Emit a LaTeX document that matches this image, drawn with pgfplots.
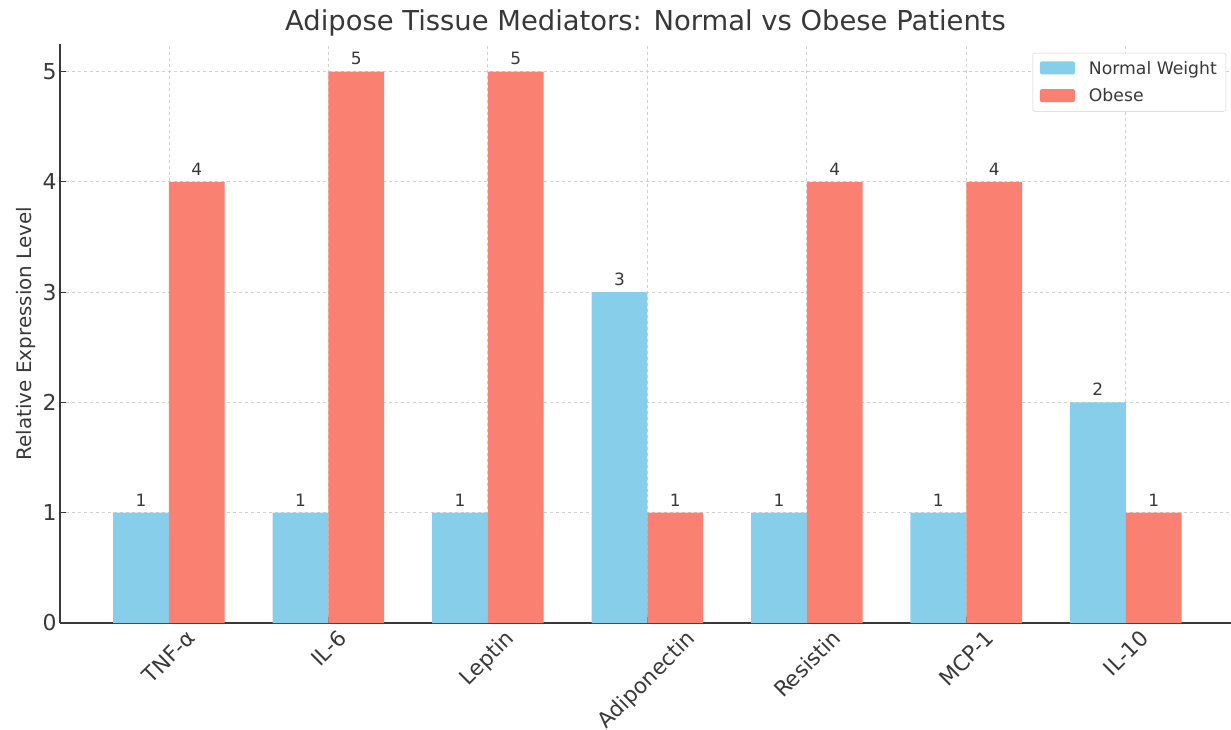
\documentclass[border=0pt]{standalone}
\usepackage{pgfplots}
\pgfplotsset{compat=1.18}
\usepackage{fontspec}
\setmainfont{DejaVu Sans}
\definecolor{skyb}{HTML}{87CEEB}
\definecolor{salm}{HTML}{FA8072}
\definecolor{txt}{HTML}{383838}
\definecolor{gridc}{HTML}{D0D0D0}
\begin{document}
\begin{tikzpicture}
\begin{axis}[
  name=ax,
  scale only axis,
  width=1171bp, height=579bp,
  xmin=-0.683, xmax=6.66,
  ymin=0, ymax=5.25,
  axis x line*=bottom, axis y line*=left,
  axis line style={txt, line width=1.2pt},
  ybar=0pt, bar width=0.35,
  xtick={0,1,2,3,4,5,6},
  xticklabels={\rotatebox{45}{TNF-α},\rotatebox{45}{IL-6},\rotatebox{45}{Leptin},\rotatebox{45}{Adiponectin},\rotatebox{45}{Resistin},\rotatebox{45}{MCP-1},\rotatebox{45}{IL-10}},
  xticklabel style={anchor=north, font=\fontsize{21.5}{25}\selectfont, text=txt, yshift=-2bp},
  ytick={0,1,2,3,4,5},
  yticklabel style={font=\fontsize{22}{26}\selectfont, text=txt},
  /pgf/number format/assume math mode=true,
  tick style={txt, line width=1pt},
  major tick length=6bp,
  tick align=inside,
  grid=major,
  major grid style={gridc, dashed, line width=0.8pt},
  ylabel={Relative Expression Level},
  ylabel style={font=\fontsize{20}{24}\selectfont, text=txt},
  title={Adipose Tissue Mediators: Normal vs Obese Patients},
  title style={font=\fontsize{27.5}{32}\selectfont, text=txt, yshift=-2bp},
  legend style={at={(1,1)}, anchor=north east, xshift=-5bp, yshift=-9bp,
    font=\fontsize{17.3}{20}\selectfont, text=txt, draw=gridc, rounded corners=2pt,
    row sep=9bp, inner xsep=7bp, inner ysep=6bp},
  legend image code/.code={\fill[#1] (0bp,-6bp) rectangle (35bp,7bp); \path (47bp,0bp);},
  legend cell align=left,
  nodes near coords,
  nodes near coords style={font=\fontsize{17}{20}\selectfont, text=txt, yshift=3bp},
  every node near coord/.append style={/pgf/number format/assume math mode=true},
]
\addplot[fill=skyb, draw=none] coordinates {(0,1) (1,1) (2,1) (3,3) (4,1) (5,1) (6,2)};
\addlegendentry{Normal Weight}
\addplot[fill=salm, draw=none] coordinates {(0,4) (1,5) (2,5) (3,1) (4,4) (5,4) (6,1)};
\addlegendentry{Obese}
\end{axis}
\pgfresetboundingbox
\path ([xshift=-60bp,yshift=-106bp]ax.south west) rectangle ([yshift=44bp]ax.north east);
\end{tikzpicture}
\end{document}
